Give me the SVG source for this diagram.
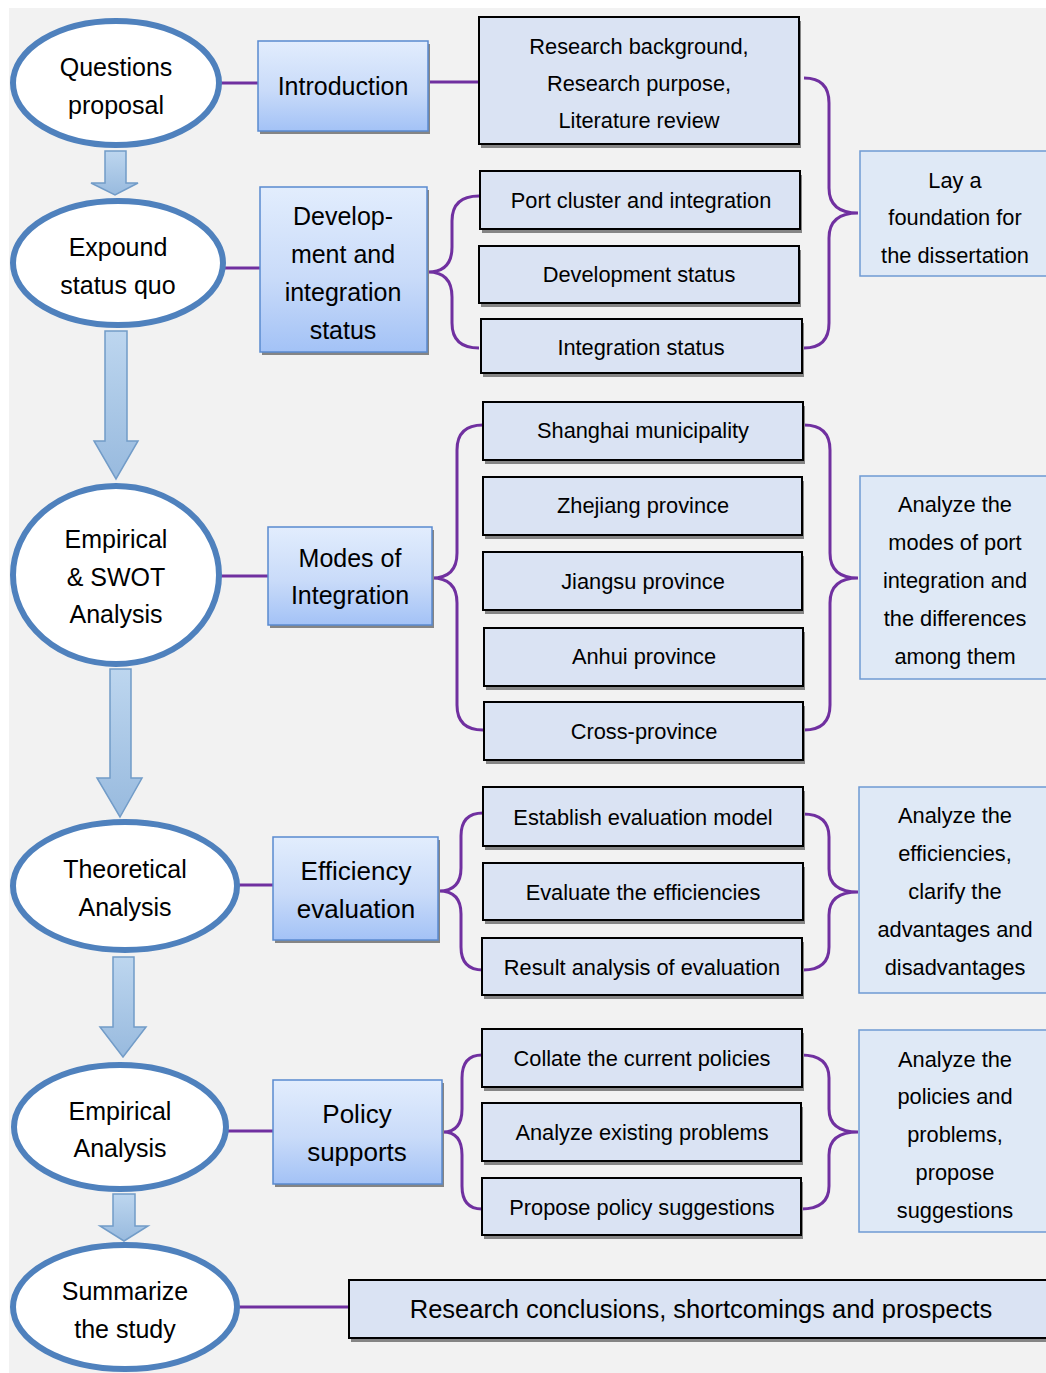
<svg xmlns="http://www.w3.org/2000/svg" width="1046" height="1373" viewBox="0 0 1046 1373">
<defs>
<linearGradient id="gMain" x1="0" y1="0" x2="0" y2="1">
<stop offset="0" stop-color="#e2edfd"/><stop offset="0.55" stop-color="#c9dbf9"/><stop offset="1" stop-color="#a3c2f6"/>
</linearGradient>
<linearGradient id="gArrow" x1="0" y1="0" x2="0" y2="1">
<stop offset="0" stop-color="#bdd6ef"/><stop offset="1" stop-color="#98bade"/>
</linearGradient>
<style>
.ell{fill:#ffffff;stroke:#4f81bd;stroke-width:6}
.arr{fill:url(#gArrow);stroke:#729cc8;stroke-width:1.5}
.main{fill:url(#gMain);stroke:#5a8ad0;stroke-width:1.5}
.det{fill:#dae3f3;stroke:#000000;stroke-width:2}
.side{fill:#dfe9f6;stroke:#6f9ad3;stroke-width:1.5}
.sh{fill:#858585}
.con{fill:none;stroke:#7030a0;stroke-width:3}
text{font-family:"Liberation Sans",Arial,sans-serif;fill:#000000;text-anchor:middle;dominant-baseline:central}
.t25{font-size:25px}
.t26{font-size:26px}
.t21{font-size:21.8px}
.tc{font-size:25.5px}
</style>
</defs>
<rect x="0" y="0" width="1046" height="1373" fill="#ffffff"/>
<rect x="9" y="8" width="1037" height="1365" fill="#f2f2f2"/>

<g id="connectors">
<line class="con" x1="219" y1="83" x2="259" y2="83"/>
<line class="con" x1="428" y1="82" x2="479" y2="82"/>
<line class="con" x1="223" y1="268" x2="261" y2="268"/>
<line class="con" x1="219" y1="576" x2="269" y2="576"/>
<line class="con" x1="237" y1="885" x2="274" y2="885"/>
<line class="con" x1="227" y1="1131" x2="274" y2="1131"/>
<line class="con" x1="237" y1="1307" x2="350" y2="1307"/>
<path class="con" d="M479,196 Q452,196 452,221 L452,247 Q452,272 428,272 Q452,272 452,297 L452,323 Q452,348 479,348"/>
<path class="con" d="M804,78 Q829,78 829,103 L829,188 Q829,213 858,213 Q829,213 829,238 L829,323 Q829,348 804,348"/>
<path class="con" d="M483,425 Q457,425 457,450 L457,553 Q457,578 432,578 Q457,578 457,603 L457,705 Q457,730 483,730"/>
<path class="con" d="M804,425 Q830,425 830,450 L830,553 Q830,578 858,578 Q830,578 830,603 L830,705 Q830,730 804,730"/>
<path class="con" d="M483,813 Q461,813 461,836 L461,868 Q461,891 439,891 Q461,891 461,914 L461,947 Q461,970 483,970"/>
<path class="con" d="M803,814 Q829,814 829,837 L829,869 Q829,892 858,892 Q829,892 829,915 L829,947 Q829,970 803,970"/>
<path class="con" d="M482,1055 Q462,1055 462,1078 L462,1109 Q462,1132 443,1132 Q462,1132 462,1155 L462,1186 Q462,1209 482,1209"/>
<path class="con" d="M801,1055 Q829,1055 829,1078 L829,1109 Q829,1132 858,1132 Q829,1132 829,1155 L829,1186 Q829,1209 801,1209"/>
</g>

<g id="flow-arrows">
<path class="arr" d="M105,151 L126,151 L126,183 L138,183 L115,195 L91,183 L105,183 Z"/>
<path class="arr" d="M105,331 L127,331 L127,441 L138,441 L116,479 L94,441 L105,441 Z"/>
<path class="arr" d="M110,669 L131,669 L131,778 L142,778 L120,817 L97,778 L110,778 Z"/>
<path class="arr" d="M113,957 L134,957 L134,1027 L146,1027 L123,1057 L100,1027 L113,1027 Z"/>
<path class="arr" d="M113,1194 L135,1194 L135,1226 L148,1226 L124,1241 L100,1226 L113,1226 Z"/>
</g>

<g id="n-questions"><ellipse class="ell" cx="116" cy="83" rx="103" ry="62"/>
<text class="t25" x="116" y="67">Questions</text><text class="t25" x="116" y="105">proposal</text></g>
<g id="n-expound"><ellipse class="ell" cx="118" cy="263" rx="105" ry="62"/>
<text class="t25" x="118" y="247">Expound</text><text class="t25" x="118" y="285">status quo</text></g>
<g id="n-empswot"><ellipse class="ell" cx="116" cy="575" rx="103" ry="89"/>
<text class="t25" x="116" y="539">Empirical</text><text class="t25" x="116" y="577">&amp; SWOT</text><text class="t25" x="116" y="614">Analysis</text></g>
<g id="n-theoretical"><ellipse class="ell" cx="125" cy="886" rx="112" ry="64"/>
<text class="t25" x="125" y="869">Theoretical</text><text class="t25" x="125" y="907">Analysis</text></g>
<g id="n-empirical"><ellipse class="ell" cx="120" cy="1127" rx="106" ry="62"/>
<text class="t25" x="120" y="1111">Empirical</text><text class="t25" x="120" y="1148">Analysis</text></g>
<g id="n-summarize"><ellipse class="ell" cx="125" cy="1307" rx="112" ry="62"/>
<text class="t25" x="125" y="1291">Summarize</text><text class="t25" x="125" y="1329">the study</text></g>

<g id="n-introduction"><rect class="sh" x="260" y="44" width="170" height="90"/><rect class="main" x="258" y="41" width="170" height="90"/>
<text class="t25" x="343" y="86">Introduction</text></g>
<g id="n-develop"><rect class="sh" x="262" y="190" width="167" height="165"/><rect class="main" x="260" y="187" width="167" height="165"/>
<text class="t25" x="343" y="216">Develop-</text><text class="t25" x="343" y="254">ment and</text><text class="t25" x="343" y="292">integration</text><text class="t25" x="343" y="330">status</text></g>
<g id="n-modes"><rect class="sh" x="270" y="530" width="164" height="98"/><rect class="main" x="268" y="527" width="164" height="98"/>
<text class="t25" x="350" y="558">Modes of</text><text class="t25" x="350" y="595">Integration</text></g>
<g id="n-efficiency"><rect class="sh" x="275" y="840" width="165" height="103"/><rect class="main" x="273" y="837" width="165" height="103"/>
<text class="t26" x="356" y="871">Efficiency</text><text class="t26" x="356" y="909">evaluation</text></g>
<g id="n-policy"><rect class="sh" x="275" y="1083" width="169" height="104"/><rect class="main" x="273" y="1080" width="169" height="104"/>
<text class="t26" x="357" y="1114">Policy</text><text class="t26" x="357" y="1152">supports</text></g>

<g id="n-research-bg"><rect class="sh" x="481" y="21" width="320" height="127"/><rect class="det" x="479" y="17" width="320" height="127"/>
<text class="t21" x="639" y="46">Research background,</text><text class="t21" x="639" y="83">Research purpose,</text><text class="t21" x="639" y="120">Literature review</text></g>
<g id="n-port-cluster"><rect class="sh" x="482" y="175" width="320" height="58"/><rect class="det" x="480" y="171" width="320" height="58"/>
<text class="t21" x="641" y="200">Port cluster and integration</text></g>
<g id="n-dev-status"><rect class="sh" x="481" y="250" width="320" height="57"/><rect class="det" x="479" y="246" width="320" height="57"/>
<text class="t21" x="639" y="274">Development status</text></g>
<g id="n-int-status"><rect class="sh" x="483" y="323" width="321" height="54"/><rect class="det" x="481" y="319" width="321" height="54"/>
<text class="t21" x="641" y="347">Integration status</text></g>
<g id="n-foundation"><rect class="side" x="860" y="151" width="190" height="125"/>
<text class="t21" x="955" y="180">Lay a</text><text class="t21" x="955" y="217">foundation for</text><text class="t21" x="955" y="255">the dissertation</text></g>

<g id="n-shanghai"><rect class="sh" x="485" y="406" width="320" height="58"/><rect class="det" x="483" y="402" width="320" height="58"/>
<text class="t21" x="643" y="430">Shanghai municipality</text></g>
<g id="n-zhejiang"><rect class="sh" x="485" y="481" width="319" height="58"/><rect class="det" x="483" y="477" width="319" height="58"/>
<text class="t21" x="643" y="505">Zhejiang province</text></g>
<g id="n-jiangsu"><rect class="sh" x="485" y="556" width="319" height="58"/><rect class="det" x="483" y="552" width="319" height="58"/>
<text class="t21" x="643" y="581">Jiangsu province</text></g>
<g id="n-anhui"><rect class="sh" x="486" y="632" width="319" height="58"/><rect class="det" x="484" y="628" width="319" height="58"/>
<text class="t21" x="644" y="656">Anhui province</text></g>
<g id="n-cross"><rect class="sh" x="486" y="706" width="319" height="58"/><rect class="det" x="484" y="702" width="319" height="58"/>
<text class="t21" x="644" y="731">Cross-province</text></g>
<g id="n-modes-side"><rect class="side" x="860" y="476" width="190" height="203"/>
<text class="t21" x="955" y="504">Analyze the</text><text class="t21" x="955" y="542">modes of port</text><text class="t21" x="955" y="580">integration and</text><text class="t21" x="955" y="618">the differences</text><text class="t21" x="955" y="656">among them</text></g>

<g id="n-establish"><rect class="sh" x="485" y="791" width="320" height="59"/><rect class="det" x="483" y="787" width="320" height="59"/>
<text class="t21" x="643" y="817">Establish evaluation model</text></g>
<g id="n-evaluate"><rect class="sh" x="485" y="867" width="320" height="57"/><rect class="det" x="483" y="863" width="320" height="57"/>
<text class="t21" x="643" y="892">Evaluate the efficiencies</text></g>
<g id="n-result"><rect class="sh" x="484" y="942" width="320" height="57"/><rect class="det" x="482" y="938" width="320" height="57"/>
<text class="t21" x="642" y="967">Result analysis of evaluation</text></g>
<g id="n-eff-side"><rect class="side" x="859" y="787" width="191" height="206"/>
<text class="t21" x="955" y="815">Analyze the</text><text class="t21" x="955" y="853">efficiencies,</text><text class="t21" x="955" y="891">clarify the</text><text class="t21" x="955" y="929">advantages and</text><text class="t21" x="955" y="967">disadvantages</text></g>

<g id="n-collate"><rect class="sh" x="484" y="1033" width="320" height="58"/><rect class="det" x="482" y="1029" width="320" height="58"/>
<text class="t21" x="642" y="1058">Collate the current policies</text></g>
<g id="n-analyze-problems"><rect class="sh" x="484" y="1107" width="319" height="58"/><rect class="det" x="482" y="1103" width="319" height="58"/>
<text class="t21" x="642" y="1132">Analyze existing problems</text></g>
<g id="n-propose"><rect class="sh" x="484" y="1182" width="319" height="57"/><rect class="det" x="482" y="1178" width="319" height="57"/>
<text class="t21" x="642" y="1207">Propose policy suggestions</text></g>
<g id="n-policy-side"><rect class="side" x="859" y="1030" width="191" height="202"/>
<text class="t21" x="955" y="1059">Analyze the</text><text class="t21" x="955" y="1096">policies and</text><text class="t21" x="955" y="1134">problems,</text><text class="t21" x="955" y="1172">propose</text><text class="t21" x="955" y="1210">suggestions</text></g>

<g id="n-conclusions"><rect class="sh" x="351" y="1284" width="700" height="58"/><rect class="det" x="349" y="1280" width="700" height="58"/>
<text class="tc" x="701" y="1309">Research conclusions, shortcomings and prospects</text></g>
</svg>
